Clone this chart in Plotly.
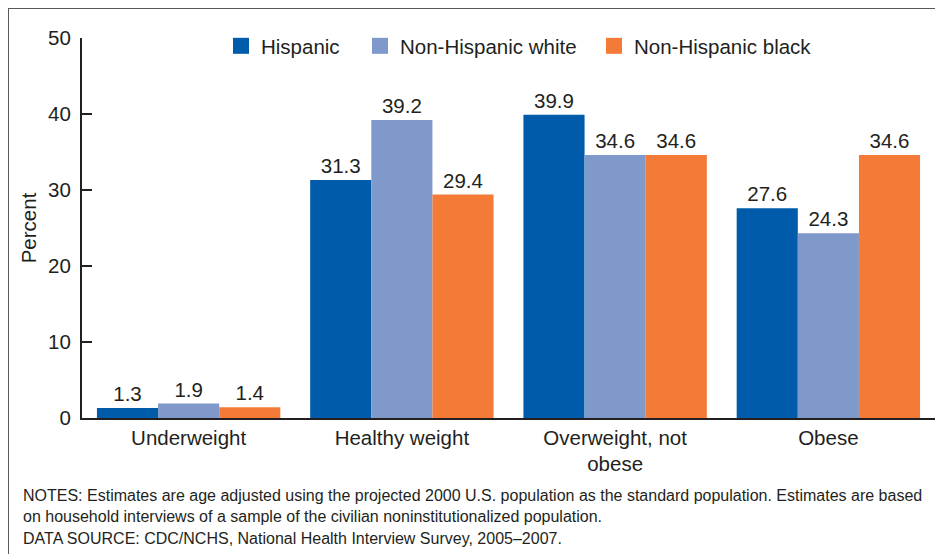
import plotly.graph_objects as go

categories = ["Underweight", "Healthy weight", "Overweight, not<br>obese", "Obese"]
hispanic = [1.3, 31.3, 39.9, 27.6]
nh_white = [1.9, 39.2, 34.6, 24.3]
nh_black = [1.4, 29.4, 34.6, 34.6]
series_names = ["Hispanic", "Non-Hispanic white", "Non-Hispanic black"]
colors = ["#005BAA", "#7F99CA", "#F47A37"]
y_ticks = [0, 10, 20, 30, 40, 50]

FONT = "Liberation Sans, Arial, Helvetica, sans-serif"
TXT = "#231F20"
FS = 20.5

OFF = 8  # page margin around the figure in the browser
W, H = 943, 554
L, T = 82 - OFF, 38 - OFF
R = W - (935 - OFF)
B = H - (418 - OFF)
PW, PH = W - L - R, H - T - B


def fx(win_px):
    return (win_px - OFF - L) / PW


def fy(win_py):
    return (H - B - (win_py - OFF)) / PH


fig = go.Figure()
for name, vals, col in zip(series_names, [hispanic, nh_white, nh_black], colors):
    fig.add_trace(go.Bar(
        x=categories, y=vals, name=name, marker=dict(color=col, line=dict(width=0)),
        text=[f"{v:.1f}" for v in vals], textposition="outside",
        textfont=dict(size=FS, color=TXT, family=FONT), cliponaxis=False,
        showlegend=False,
    ))

# legend entries (one legend per item so each can be placed like the reference)
legend_ids = ["legend", "legend2", "legend3"]
legend_sym_px = [239.5, 378.5, 612.5]
for name, col, lid in zip(series_names, colors, legend_ids):
    fig.add_trace(go.Scatter(
        x=[None], y=[None], mode="markers", name=name, legend=lid,
        marker=dict(symbol="square", size=18, color=col, line=dict(width=0)),
        showlegend=True,
    ))

legend_common = dict(orientation="h", yanchor="middle", y=fy(46), xanchor="left",
                     font=dict(size=FS, color=TXT, family=FONT), bgcolor="rgba(0,0,0,0)",
                     itemwidth=30, borderwidth=0)
layout_legends = {}
for lid, cx in zip(legend_ids, legend_sym_px):
    layout_legends[lid] = dict(legend_common, x=fx(cx - 18.5))

fig.update_layout(
    width=W, height=H,
    margin=dict(l=L, r=R, t=T, b=B, autoexpand=False),
    paper_bgcolor="white", plot_bgcolor="white",
    barmode="group", bargap=0.14, bargroupgap=0,
    font=dict(family=FONT, color=TXT, size=FS),
    showlegend=True,
    xaxis=dict(range=[-0.5, 3.5], showline=True, linecolor=TXT, linewidth=2,
               ticks="", tickfont=dict(size=FS, color=TXT), showgrid=False, automargin=False),
    yaxis=dict(range=[0, 50], tickvals=y_ticks, showline=True, linecolor=TXT, linewidth=2,
               ticks="inside", ticklen=10, tickwidth=2, tickcolor=TXT,
               tickfont=dict(size=FS, color=TXT), showgrid=False, zeroline=False,
               automargin=False, ticklabelstandoff=5,
               title=dict(text="Percent", font=dict(size=FS, color=TXT), standoff=6)),
    **layout_legends,
)

# outer border frame (the figure's edge)
fig.add_shape(type="rect", xref="paper", yref="paper",
              x0=-L / PW, x1=(W - L) / PW, y0=-B / PH, y1=(H - B) / PH,
              line=dict(color="#5A5A5A", width=2), fillcolor="rgba(0,0,0,0)", layer="below")

notes = ("NOTES: Estimates are age adjusted using the projected 2000 U.S. population as the standard population. "
         "Estimates are based<br>on household interviews of a sample of the civilian noninstitutionalized population.")
source = "DATA SOURCE: CDC/NCHS, National Health Interview Survey, 2005–2007."
fig.add_annotation(text=notes, xref="paper", yref="paper", x=fx(21), y=fy(485),
                   xanchor="left", yanchor="top", showarrow=False, align="left",
                   font=dict(size=16, color=TXT, family=FONT))
fig.add_annotation(text=source, xref="paper", yref="paper", x=fx(21), y=fy(528),
                   xanchor="left", yanchor="top", showarrow=False, align="left",
                   font=dict(size=16, color=TXT, family=FONT))

fig.write_html("out.html")
